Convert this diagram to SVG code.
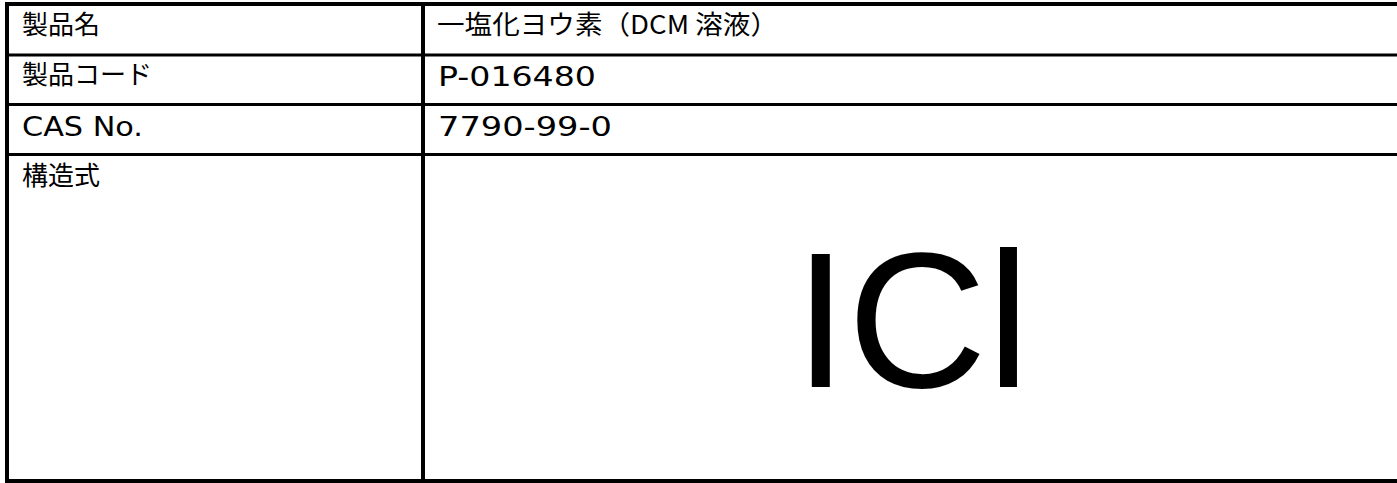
<svg xmlns="http://www.w3.org/2000/svg" width="1397" height="483" viewBox="0 0 1397 483">
<style>
.t{font-family:"Noto Sans CJK JP","Noto Sans",sans-serif;font-size:26px;fill:#000}
.l{font-family:"DejaVu Sans","Noto Sans",sans-serif;font-size:27px;fill:#000}
.f{font-family:"Liberation Sans",Arial,sans-serif;font-size:193px;fill:#000}
.ln{stroke:#000;fill:none}
</style>
<rect width="1397" height="483" fill="#fff"/>
<g id="grid">
<line class="ln" x1="5" y1="4" x2="1397" y2="4" stroke-width="4"/>
<line class="ln" x1="5" y1="55" x2="1397" y2="55" stroke-width="3"/>
<line class="ln" x1="5" y1="104.5" x2="1397" y2="104.5" stroke-width="3"/>
<line class="ln" x1="5" y1="154.5" x2="1397" y2="154.5" stroke-width="3"/>
<line class="ln" x1="5" y1="481" x2="1397" y2="481" stroke-width="4"/>
<line class="ln" x1="7" y1="2" x2="7" y2="483" stroke-width="4"/>
<line class="ln" x1="423" y1="2" x2="423" y2="483" stroke-width="4"/>
</g>
<g id="row1">
<text class="t" x="22" y="34">製品名</text>
<text class="t" x="437" y="34" textLength="341" lengthAdjust="spacingAndGlyphs">一塩化ヨウ素（DCM 溶液）</text>
</g>
<g id="row2">
<text class="t" x="22" y="84">製品コード</text>
<text class="l" x="438" y="86" textLength="158" lengthAdjust="spacingAndGlyphs">P-016480</text>
</g>
<g id="row3">
<text class="l" x="22" y="136" textLength="121" lengthAdjust="spacingAndGlyphs">CAS No.</text>
<text class="l" x="438" y="136" textLength="174" lengthAdjust="spacingAndGlyphs">7790-99-0</text>
</g>
<g id="row4">
<text class="t" x="22" y="185">構造式</text>
<text class="f" x="794" y="387">ICl</text>
</g>
</svg>
